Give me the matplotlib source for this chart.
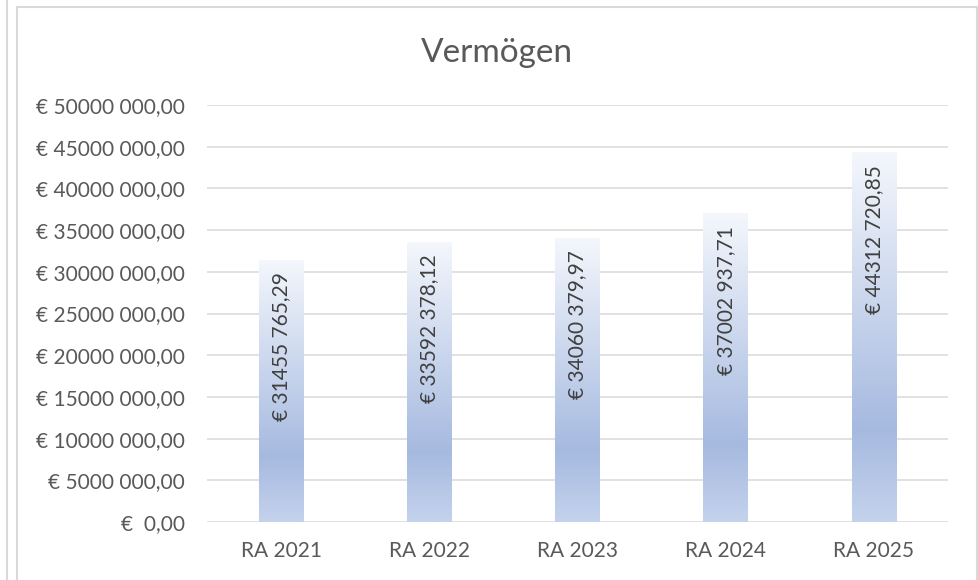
import numpy as np
import matplotlib
matplotlib.use("Agg")
import matplotlib.pyplot as plt
from matplotlib.colors import LinearSegmentedColormap
from matplotlib.lines import Line2D

# data
categories = ["RA 2021", "RA 2022", "RA 2023", "RA 2024", "RA 2025"]
values = [31455765.29, 33592378.12, 34060379.97, 37002937.71, 44312720.85]
value_labels = ["€ 31455 765,29", "€ 33592 378,12", "€ 34060 379,97",
                "€ 37002 937,71", "€ 44312 720,85"]
y_ticks = [0, 5e6, 10e6, 15e6, 20e6, 25e6, 30e6, 35e6, 40e6, 45e6, 50e6]
y_tick_labels = ["€  0,00", "€ 5000 000,00", "€ 10000 000,00", "€ 15000 000,00",
                 "€ 20000 000,00", "€ 25000 000,00", "€ 30000 000,00",
                 "€ 35000 000,00", "€ 40000 000,00", "€ 45000 000,00",
                 "€ 50000 000,00"]

plt.rcParams['font.family'] = ['Lato', 'DejaVu Sans']

fig = plt.figure(figsize=(9.79, 5.8), dpi=100)
ax = fig.add_axes([207 / 979, 1 - 522 / 580, (948 - 207) / 979, (522 - 105) / 580])

# bar gradient (bottom -> top), like the Excel fill
grad_cmap = LinearSegmentedColormap.from_list(
    "bar_grad", [(0.0, "#C4D2EC"), (0.25, "#A6BAE0"), (1.0, "#F4F7FC")])

x = np.arange(len(categories))
bars = ax.bar(x, values, width=0.30, color="none", edgecolor="none", zorder=2)
grad = np.linspace(0, 1, 256).reshape(-1, 1)
for b in bars:
    x0, w, h = b.get_x(), b.get_width(), b.get_height()
    im = ax.imshow(grad, cmap=grad_cmap, origin="lower", aspect="auto",
                   extent=(x0, x0 + w, 0, h), zorder=2, interpolation="bilinear")
    im.set_clip_path(b)

for xi, v, lab in zip(x, values, value_labels):
    ax.annotate(lab, (xi, v), xytext=(0, -9), textcoords="offset points",
                rotation=90, ha="center", va="top", fontsize=15,
                color="#404040", zorder=3)

ax.set_xlim(-0.5, len(categories) - 0.5)
ax.set_ylim(0, 50e6)
ax.set_yticks(y_ticks)
ax.set_yticklabels(y_tick_labels)
ax.set_xticks(x)
ax.set_xticklabels(categories)
ax.tick_params(axis="both", length=0, labelsize=15, labelcolor="#595959")
ax.tick_params(axis="y", pad=16)
ax.tick_params(axis="x", pad=14)
ax.grid(axis="y", color="#D9D9D9", linewidth=1.1, zorder=0)
ax.set_axisbelow(True)
for s in ax.spines.values():
    s.set_visible(False)

fig.text(497 / 979, 1 - 53 / 580, "Vermögen", ha="center", va="center",
         fontsize=24, color="#595959")

# chart frame and neighbouring panel edge
frame_col = "#D9D9D9"
fig.add_artist(Line2D([17 / 979, 17 / 979], [0, 1 - 7 / 580], color=frame_col, lw=1.5))
fig.add_artist(Line2D([17 / 979, 977 / 979], [1 - 7 / 580, 1 - 7 / 580], color=frame_col, lw=1.5))
fig.add_artist(Line2D([977 / 979, 977 / 979], [0, 1 - 7 / 580], color=frame_col, lw=1.5))
fig.add_artist(Line2D([7 / 979, 7 / 979], [0, 1], color=frame_col, lw=1.5))

fig.savefig("out.png", dpi=100)
